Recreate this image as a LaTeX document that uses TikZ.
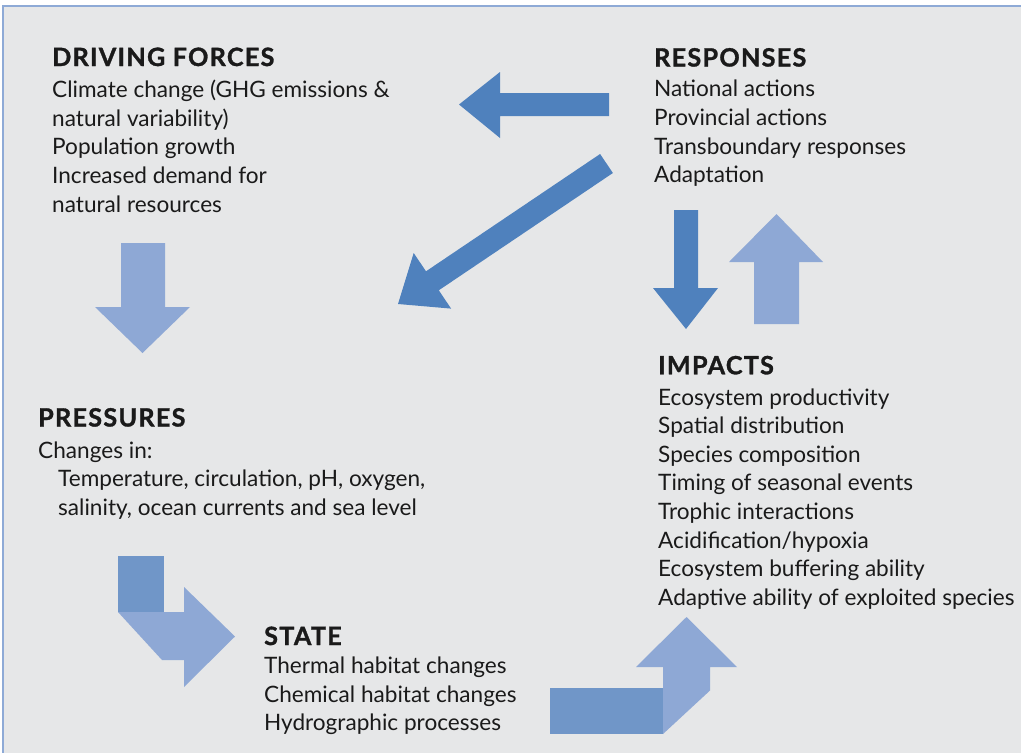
\documentclass[tikz,border=0pt]{standalone}
\usepackage{fontspec}
\setmainfont{Lato}
\newfontfamily\headfont[LetterSpace=5,FakeBold=1.2]{Lato}
\begin{document}
\begin{tikzpicture}[x=1pt,y=-1pt,
  darkarrow/.style={fill=arrowdark,draw=none},
  midarrow/.style={fill=arrowmid,draw=none},
  lightarrow/.style={fill=arrowlight,draw=none},
  head/.style={anchor=base west,inner sep=0pt,text=txt,font=\headfont\fontsize{25.2}{28}\selectfont\bfseries},
  body/.style={anchor=base west,inner sep=0pt,text=txt,font=\fontsize{22.6}{28.6}\selectfont}]
\definecolor{bg}{HTML}{E6E7E8}
\definecolor{frame}{HTML}{8EAAD6}
\definecolor{arrowdark}{HTML}{4F81BD}
\definecolor{arrowmid}{HTML}{7096C8}
\definecolor{arrowlight}{HTML}{8EA8D5}
\definecolor{txt}{HTML}{1A1A1A}
\useasboundingbox (0,0) rectangle (1021,753);
\fill[white] (0,0) rectangle (1021,753);
\fill[bg] (3,6) rectangle (1021,753);
\draw[frame,line width=1.5pt] (3,753) -- (3,6) -- (1021,6);

% texts
\node[head] (dfh) at (52,66) {DRIVING FORCES};
\node[body] (dfb) at (52,97.6) {\begin{tabular}[t]{@{}l@{}}Climate change (GHG emissions \&\\natural variability)\\Population growth\\Increased demand for\\natural resources\end{tabular}};
\node[head] (rh) at (654,66.5) {RESPONSES};
\node[body] (rb) at (654,96.8) {\begin{tabular}[t]{@{}l@{}}National actions\\Provincial actions\\Transboundary responses\\Adaptation\end{tabular}};
\node[head] (ph) at (38,426.5) {PRESSURES};
\node[body] (pb) at (38,458) {\begin{tabular}[t]{@{}l@{}}Changes in:\\\hspace*{20pt}Temperature, circulation, pH, oxygen,\\\hspace*{20pt}salinity, ocean currents and sea level\end{tabular}};
\node[head] (ih) at (658,374.3) {IMPACTS};
\node[body] (ib) at (658,405) {\begin{tabular}[t]{@{}l@{}}Ecosystem productivity\\Spatial distribution\\Species composition\\Timing of seasonal events\\Trophic interactions\\Acidification/hypoxia\\Ecosystem buffering ability\\Adaptive ability of exploited species\end{tabular}};
\node[head] (sh) at (264,645) {STATE};
\node[body] (sb) at (264,673.5) {\begin{tabular}[t]{@{}l@{}}Thermal habitat changes\\Chemical habitat changes\\Hydrographic processes\end{tabular}};

% arrows
\fill[darkarrow] (609,93) -- (500,93) -- (500,72) -- (459,104.5) -- (500,138) -- (500,116) -- (609,116) -- cycle;
\fill[darkarrow] (600.1,154) -- (426,271.3) -- (413.7,253) -- (398,304) -- (451.1,308.6) -- (438.8,290.3) -- (612.9,173) -- cycle;
\fill[darkarrow] (674,210) -- (698,210) -- (698,288) -- (718,288) -- (686,329) -- (653,288) -- (674,288) -- cycle;
\fill[lightarrow] (754,324) -- (754,262) -- (729,262) -- (776.5,214) -- (823,262) -- (799,262) -- (799,324) -- cycle;
\fill[lightarrow] (121,243) -- (165,243) -- (165,307) -- (190,307) -- (142.5,353) -- (95,307) -- (121,307) -- cycle;
\fill[midarrow] (118,556) rectangle (164,612);
\fill[lightarrow] (118,612) -- (184,612) -- (184,587) -- (235,636.5) -- (184,687) -- (184,660) -- (162,660) -- cycle;
\fill[midarrow] (550,688) rectangle (663,734);
\fill[lightarrow] (663,734) -- (710,690.5) -- (710,667) -- (737,667) -- (686.5,617) -- (636,667) -- (663,667) -- cycle;
\end{tikzpicture}
\end{document}
